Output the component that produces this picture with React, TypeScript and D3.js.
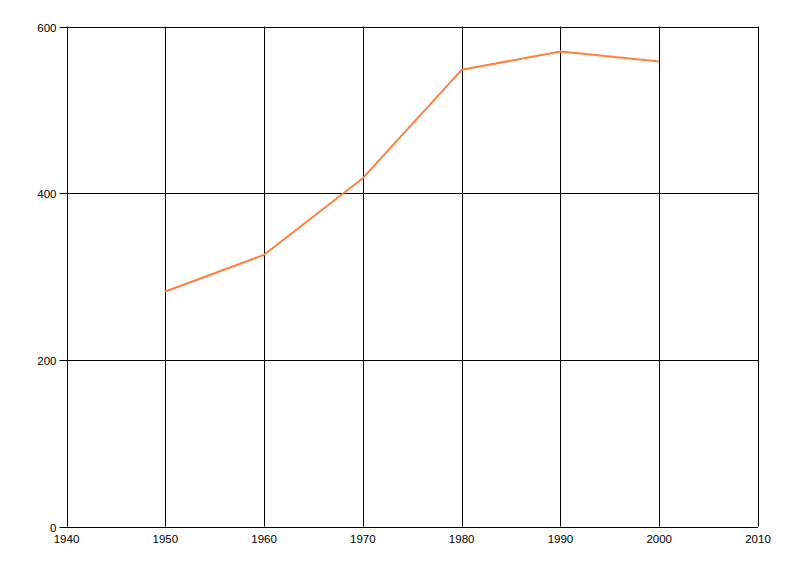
import React from "react";
import { scaleLinear, line } from "d3";

const years = [1950, 1960, 1970, 1980, 1990, 2000];
const values = [282, 326, 418, 548, 570, 558];
const xTicks = [1940, 1950, 1960, 1970, 1980, 1990, 2000, 2010];
const yTicks = [0, 200, 400, 600];

const W = 800;
const H = 576;
const margin = { top: 26.5, right: 42, bottom: 49.5, left: 66.5 };

export default function App() {
  const x = scaleLinear()
    .domain([1940, 2010])
    .range([margin.left, W - margin.right]);
  const y = scaleLinear()
    .domain([0, 600])
    .range([H - margin.bottom, margin.top]);

  const path = line<number>()
    .x((_, i) => x(years[i]))
    .y((d) => y(d))(values);

  return (
    <div style={{ position: "fixed", left: 0, top: 0, width: W, height: H, background: "#fff" }}>
      <svg width={W} height={H} style={{ display: "block" }} fontFamily="'Liberation Sans', Arial, sans-serif" fontSize={11.5}>
        {/* grid */}
        {xTicks.map((t) => (
          <line
            key={`gx${t}`}
            x1={Math.round(x(t)) + 0.5}
            x2={Math.round(x(t)) + 0.5}
            y1={y(600)}
            y2={y(0)}
            stroke="#000"
            strokeWidth={1}
          />
        ))}
        {yTicks.map((t) => (
          <line
            key={`gy${t}`}
            x1={x(1940) - 7}
            x2={x(2010)}
            y1={Math.round(y(t)) + 0.5}
            y2={Math.round(y(t)) + 0.5}
            stroke="#000"
            strokeWidth={1}
          />
        ))}
        {/* y labels */}
        {yTicks.map((t) => (
          <text
            key={`ly${t}`}
            x={x(1940) - 10}
            y={Math.round(y(t)) + 0.5}
            dy="0.35em"
            textAnchor="end"
            fill="#000"
          >
            {t}
          </text>
        ))}
        {/* x labels */}
        {xTicks.map((t) => (
          <text
            key={`lx${t}`}
            x={x(t)}
            y={y(0) + 16}
            textAnchor="middle"
            fill="#000"
          >
            {t}
          </text>
        ))}
        <path d={path ?? ""} fill="none" stroke="#FF7F40" strokeWidth={2} strokeLinejoin="round" />
      </svg>
    </div>
  );
}
